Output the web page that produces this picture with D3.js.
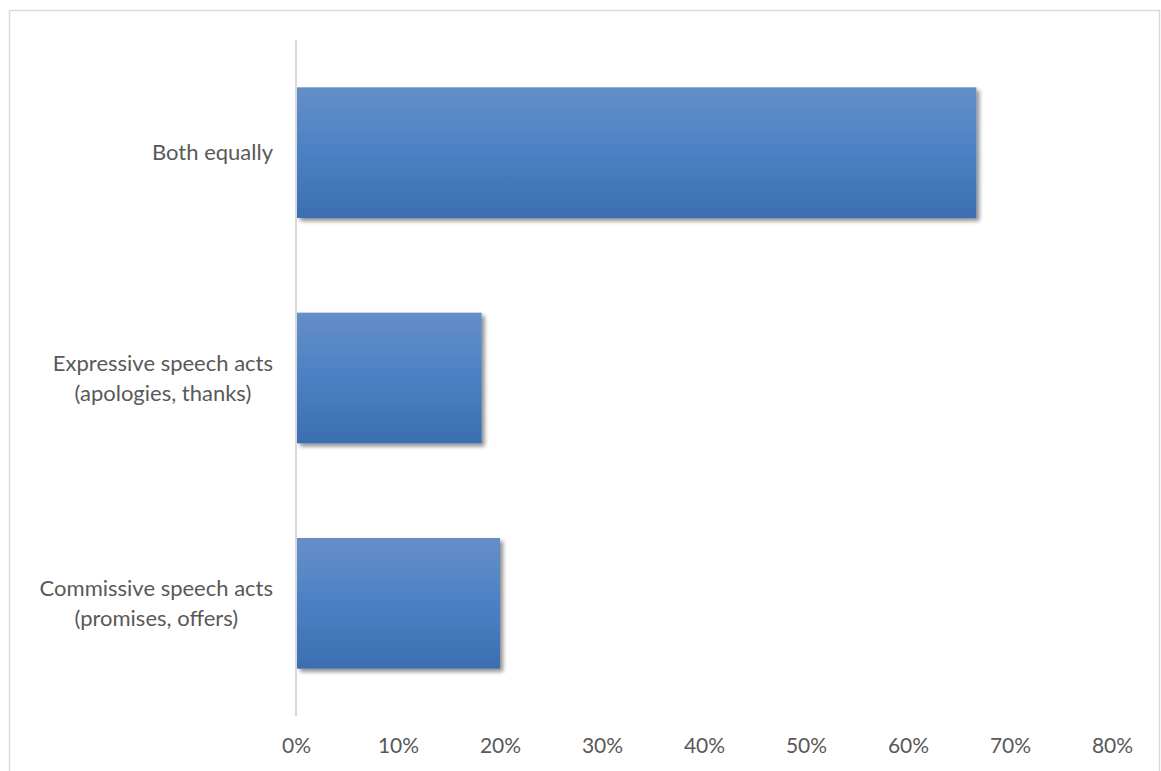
<!DOCTYPE html>
<html lang="en">
<head>
<meta charset="UTF-8">
<title>Speech acts</title>
<script src="https://cdn.jsdelivr.net/npm/d3@7"></script>
<style>
  body { margin: 0; background: #fff; }
  text { font-family: Lato, "Open Sans", sans-serif; fill: #595959; }
</style>
</head>
<body>
<script>
    // categories, top to bottom
    var categories = [
        ["Both equally"],
        ["Expressive speech acts", "(apologies, thanks)"],
        ["Commissive speech acts", "(promises, offers)"]
    ];
    // share of answers
    var values = [0.667, 0.182, 0.200];
    var tickValues = [0, 0.1, 0.2, 0.3, 0.4, 0.5, 0.6, 0.7, 0.8];

    var width = 1161, height = 771;
    var svg = d3.select("body").append("svg")
        .attr("width", width)
        .attr("height", height);

    // gradient + shadow for bars
    var defs = svg.append("defs");
    var grad = defs.append("linearGradient")
        .attr("id", "barGrad")
        .attr("x1", 0).attr("y1", 0).attr("x2", 0).attr("y2", 1);
    grad.append("stop").attr("offset", "0%").attr("stop-color", "#658fc8");
    grad.append("stop").attr("offset", "50%").attr("stop-color", "#4b81c4");
    grad.append("stop").attr("offset", "100%").attr("stop-color", "#3c6eb1");

    var shadow = defs.append("filter")
        .attr("id", "shadow")
        .attr("x", "-5%").attr("y", "-5%").attr("width", "115%").attr("height", "120%");
    shadow.append("feGaussianBlur").attr("in", "SourceAlpha").attr("stdDeviation", 2).attr("result", "blur");
    shadow.append("feOffset").attr("in", "blur").attr("dx", 3).attr("dy", 3).attr("result", "off");
    shadow.append("feComponentTransfer").attr("in", "off").attr("result", "faded")
        .append("feFuncA").attr("type", "linear").attr("slope", 0.45);
    var merge = shadow.append("feMerge");
    merge.append("feMergeNode").attr("in", "faded");
    merge.append("feMergeNode").attr("in", "SourceGraphic");

    // chart frame
    svg.append("rect")
        .attr("x", 9.5).attr("y", 10.5)
        .attr("width", 1150).attr("height", 780)
        .attr("fill", "none")
        .attr("stroke", "#d9d9d9")
        .attr("stroke-width", 1.5);

    var plotLeft = 296, plotTop = 40, plotBottom = 716;

    var x = d3.scaleLinear()
        .domain([0, 0.8])
        .range([plotLeft, plotLeft + 816]);

    var y = d3.scaleBand()
        .domain(d3.range(categories.length))
        .range([plotTop, plotBottom])
        .paddingInner(0.42)
        .paddingOuter(0.21);

    // bars
    svg.selectAll("rect.bar")
        .data(values)
        .enter()
        .append("rect")
        .attr("class", "bar")
        .attr("x", x(0) + 1)
        .attr("y", function (d, i) { return y(i); })
        .attr("width", function (d) { return x(d) - x(0) - 1; })
        .attr("height", y.bandwidth())
        .attr("fill", "url(#barGrad)")
        .attr("filter", "url(#shadow)");

    // vertical axis line
    svg.append("line")
        .attr("x1", x(0)).attr("x2", x(0))
        .attr("y1", plotTop).attr("y2", plotBottom)
        .attr("stroke", "#d9d9d9")
        .attr("stroke-width", 2);

    // x axis labels
    var xAxis = d3.axisBottom(x)
        .tickValues(tickValues)
        .tickFormat(d3.format(".0%"))
        .tickSize(0)
        .tickPadding(0);
    var gx = svg.append("g")
        .attr("transform", "translate(0," + 738 + ")")
        .call(xAxis);
    gx.select(".domain").remove();
    gx.selectAll("text")
        .style("font-family", "Lato, 'Open Sans', sans-serif")
        .style("font-size", "21px")
        .attr("fill", "#595959");

    // category labels, each block right-aligned, lines centred
    var labelRight = 273;
    var lineH = 30;
    categories.forEach(function (lines, i) {
        var cy = y(i) + y.bandwidth() / 2;
        var g = svg.append("text")
            .attr("font-size", "22px")
            .attr("text-anchor", "middle");
        var spans = g.selectAll("tspan")
            .data(lines)
            .enter()
            .append("tspan")
            .attr("y", function (d, j) {
                return cy + (j - (lines.length - 1) / 2) * lineH;
            })
            .attr("dy", "0.35em")
            .text(function (d) { return d; });
        var maxW = 0;
        spans.each(function () {
            maxW = Math.max(maxW, this.getComputedTextLength());
        });
        spans.attr("x", labelRight - maxW / 2);
    });
</script>
</body>
</html>
